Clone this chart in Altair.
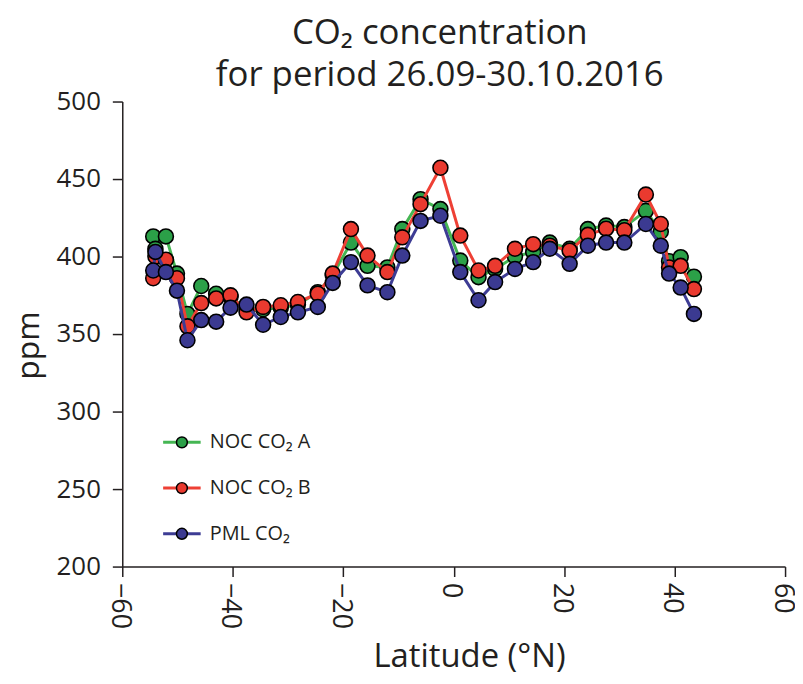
import altair as alt
import pandas as pd

lat = [-54.4, -54.0, -52.1, -50.1, -48.2, -45.7, -43.0, -40.4, -37.5, -34.5,
       -31.3, -28.2, -24.6, -21.9, -18.6, -15.6, -12.0, -9.3, -6.0, -2.4,
       1.2, 4.5, 7.5, 11.1, 14.4, 17.4, 21.0, 24.3, 27.6, 30.9,
       34.8, 37.5, 39.0, 41.1, 43.5]
noc_a = [413, 405, 413, 389, 363, 381, 376, 374, 366, 366,
         367, 369, 377, 388, 409, 394, 393, 417.7, 437, 430.6,
         397.4, 386.7, 392, 400, 403, 409, 405, 417.7, 420, 419,
         429.5, 416, 397, 399.6, 387]
noc_b = [386, 400, 398, 386, 355, 370, 373, 375, 364, 367.5,
         368.6, 370.7, 376, 389, 417.7, 400.6, 390, 412.4, 433.8, 457.3,
         413.5, 391, 394, 405, 408, 407, 403.8, 414, 418, 417,
         440, 421, 393, 394, 379]
pml = [391, 403, 390, 378, 346, 359, 358, 367, 369, 356,
       361, 364, 367.5, 383, 396.4, 381.4, 377, 400.6, 423, 426.3,
       390, 371.8, 383.5, 392, 396.4, 405, 395.3, 407, 409, 409,
       421, 407, 389, 380, 363]

series = ["NOC CO₂ A", "NOC CO₂ B", "PML CO₂"]
series_pt = [s + " " for s in series]  # separate domain so the marker legend is not merged
line_colors = ["#45b653", "#ee4035", "#3d3c94"]
fill_colors = ["#2ba048", "#ea3a2f", "#3b3a91"]
x_ticks = [-60, -40, -20, 0, 20, 40, 60]
y_ticks = [200, 250, 300, 350, 400, 450, 500]

rows = []
for name, name_pt, vals in zip(series, series_pt, [noc_a, noc_b, pml]):
    for la, v in zip(lat, vals):
        rows.append({"lat": la, "ppm": v, "series": name, "series_pt": name_pt})
df = pd.DataFrame(rows)

FONT = "Open Sans"
TXT = "#231f20"

x = alt.X("lat:Q", scale=alt.Scale(domain=[-60, 60], nice=False),
          axis=alt.Axis(values=x_ticks, title="Latitude (°N)", labelAngle=90,
                        labelFontSize=27, labelPadding=6, labelOffset=-3, titleFontSize=33,
                        titlePadding=12, tickSize=10, titleX=349))
y = alt.Y("ppm:Q", scale=alt.Scale(domain=[200, 500], nice=False),
          axis=alt.Axis(values=y_ticks, title="ppm", labelFontSize=26,
                        labelPadding=12, titleFontSize=32, titlePadding=11,
                        tickSize=10, titleY=245))

stroke_enc = alt.Color("series:N", scale=alt.Scale(domain=series, range=line_colors),
                       legend=alt.Legend(title=None, orient="none", legendX=50, legendY=333,
                                         symbolType="M-3.6,0H3.6", symbolSize=110,
                                         symbolStrokeWidth=3, labelOffset=18,
                                         labelFontSize=20, labelFont=FONT, labelColor=TXT,
                                         rowPadding=26, padding=0))
fill_enc = alt.Fill("series_pt:N", scale=alt.Scale(domain=series_pt, range=fill_colors),
                    legend=alt.Legend(title=None, orient="none", legendX=50, legendY=333,
                                      symbolType="circle", symbolSize=120,
                                      symbolStrokeColor="black", symbolStrokeWidth=1.5,
                                      symbolOpacity=1, labelOffset=18,
                                      labelFontSize=20, labelFont=FONT, labelOpacity=0,
                                      rowPadding=26, padding=0))

layers = []
for name in series:
    sub = df[df["series"] == name]
    layers.append(alt.Chart(sub).mark_line(strokeWidth=3).encode(
        x=x, y=y, color=stroke_enc, order="lat:Q"))
    layers.append(alt.Chart(sub).mark_circle(size=225, stroke="black", strokeWidth=1.6,
                                              opacity=1).encode(x=x, y=y, fill=fill_enc))

chart = alt.layer(*layers).properties(
    width=667, height=468,
    title=alt.Title(["CO₂ concentration", "for period 26.09-30.10.2016"],
                    fontSize=35, font=FONT, fontWeight="normal", color=TXT,
                    anchor="middle", dx=-14, dy=14, lineHeight=42, offset=10),
    autosize=alt.AutoSizeParams(type="none"),
    padding={"left": 115, "top": 92, "right": 10, "bottom": 108},
).configure_view(stroke=None).configure_axis(
    grid=False, domainColor=TXT, domainWidth=1.5, tickColor=TXT, tickWidth=1.5,
    labelFont=FONT, titleFont=FONT, labelColor=TXT, titleColor=TXT,
    titleFontWeight="normal",
)

chart.save("out.html", embed_options={"renderer": "svg", "actions": False})
